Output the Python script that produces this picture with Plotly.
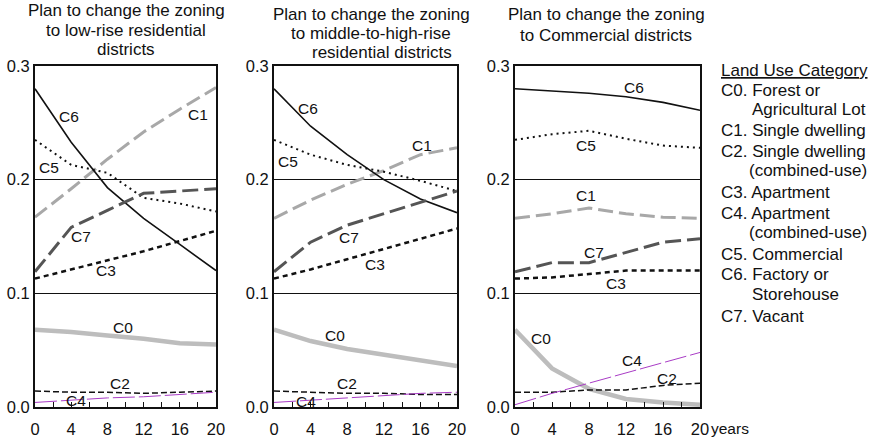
import plotly.graph_objects as go

# ---------------- data ----------------
years = [0, 4, 8, 12, 16, 20]
categories = ["C0", "C1", "C2", "C3", "C4", "C5", "C6", "C7"]

panel_titles = [
    ["Plan to change the zoning", "to low-rise residential", "districts"],
    ["Plan to change the zoning", "to middle-to-high-rise", "residential districts"],
    ["Plan to change the zoning", "to Commercial districts"],
]

y_ticks = [0.0, 0.1, 0.2, 0.3]
y_ticklabels = ["0.0", "0.1", "0.2", "0.3"]
x_ticks = [0, 4, 8, 12, 16, 20]
x_unit = "years"

# Panel 1: low-rise residential
low_c0 = [0.068, 0.066, 0.063, 0.060, 0.056, 0.055]
low_c1 = [0.167, 0.192, 0.218, 0.242, 0.262, 0.281]
low_c2 = [0.014, 0.013, 0.013, 0.012, 0.013, 0.014]
low_c3 = [0.113, 0.121, 0.129, 0.137, 0.146, 0.155]
low_c4 = [0.004, 0.006, 0.008, 0.009, 0.011, 0.013]
low_c5 = [0.235, 0.213, 0.206, 0.184, 0.179, 0.172]
low_c6 = [0.280, 0.233, 0.193, 0.166, 0.143, 0.120]
low_c7 = [0.119, 0.158, 0.173, 0.188, 0.190, 0.192]

# Panel 2: middle-to-high-rise residential
mid_c0 = [0.068, 0.058, 0.051, 0.046, 0.041, 0.036]
mid_c1 = [0.166, 0.182, 0.196, 0.208, 0.222, 0.228]
mid_c2 = [0.014, 0.013, 0.012, 0.012, 0.011, 0.011]
mid_c3 = [0.113, 0.121, 0.130, 0.139, 0.148, 0.157]
mid_c4 = [0.004, 0.006, 0.008, 0.010, 0.012, 0.013]
mid_c5 = [0.235, 0.222, 0.213, 0.207, 0.199, 0.190]
mid_c6 = [0.280, 0.247, 0.222, 0.200, 0.183, 0.171]
mid_c7 = [0.119, 0.145, 0.160, 0.170, 0.180, 0.190]

# Panel 3: commercial
com_c0 = [0.068, 0.034, 0.016, 0.007, 0.004, 0.002]
com_c1 = [0.166, 0.170, 0.175, 0.170, 0.167, 0.166]
com_c2 = [0.013, 0.013, 0.015, 0.015, 0.019, 0.021]
com_c3 = [0.113, 0.114, 0.117, 0.120, 0.120, 0.120]
com_c4 = [0.002, 0.012, 0.021, 0.030, 0.039, 0.048]
com_c5 = [0.235, 0.240, 0.243, 0.236, 0.230, 0.228]
com_c6 = [0.280, 0.278, 0.276, 0.273, 0.268, 0.261]
com_c7 = [0.119, 0.127, 0.127, 0.136, 0.145, 0.148]

legend_title = "Land Use Category"
legend_lines = [
    ["C0. Forest or", "Agricultural Lot"],
    ["C1. Single dwelling"],
    ["C2. Single dwelling", "(combined-use)"],
    ["C3. Apartment"],
    ["C4. Apartment", "(combined-use)"],
    ["C5. Commercial"],
    ["C6. Factory or", "Storehouse"],
    ["C7. Vacant"],
]

panels = [
    dict(zip(categories, [low_c0, low_c1, low_c2, low_c3, low_c4, low_c5, low_c6, low_c7])),
    dict(zip(categories, [mid_c0, mid_c1, mid_c2, mid_c3, mid_c4, mid_c5, mid_c6, mid_c7])),
    dict(zip(categories, [com_c0, com_c1, com_c2, com_c3, com_c4, com_c5, com_c6, com_c7])),
]

# ---------------- styles / layout ----------------
W, H = 880, 441
FONT = "Liberation Sans, Arial, Helvetica, sans-serif"
INK = "#111111"

line_styles = {
    "C0": dict(color="#bdbdbd", width=4.5, dash="solid"),
    "C1": dict(color="#a8a8a8", width=3, dash="15px,6px"),
    "C2": dict(color=INK, width=1.5, dash="6px,3px"),
    "C3": dict(color=INK, width=2.5, dash="5px,4px"),
    "C4": dict(color="#a93cc6", width=1, dash="22px,4px"),
    "C5": dict(color=INK, width=2, dash="2px,4px"),
    "C6": dict(color=INK, width=1.6, dash="solid"),
    "C7": dict(color="#555555", width=3, dash="16px,6px"),
}

# panel pixel boxes (left, right) and common (top, bottom)
panel_px = [(35, 216), (274, 457), (515, 700)]
top_px, bot_px = 66, 407

# label positions (data coords) for each panel
label_pos = [
    {"C6": (3.8, 0.256), "C1": (18.0, 0.257), "C5": (1.6, 0.211), "C7": (5.1, 0.150),
     "C3": (7.85, 0.120), "C0": (9.7, 0.070), "C2": (9.4, 0.021), "C4": (4.5, 0.006)},
    {"C6": (3.7, 0.263), "C1": (16.2, 0.230), "C5": (1.5, 0.216), "C7": (8.2, 0.149),
     "C3": (11.0, 0.125), "C0": (6.7, 0.0625), "C2": (8.0, 0.021), "C4": (3.5, 0.0045)},
    {"C6": (12.9, 0.281), "C5": (7.7, 0.230), "C1": (7.7, 0.186), "C7": (8.5, 0.136),
     "C3": (10.9, 0.109), "C0": (2.8, 0.0605), "C4": (12.6, 0.041), "C2": (16.4, 0.025)},
]

TITLE_SIZE = 17
title_pos = [
    [(126, 11), (126, 30.5), (126, 50)],
    [(371, 14), (371, 33.5), (382, 53)],
    [(606, 14.5), (606, 35.5)],
]

LEG_SIZE = 17
legend_x, legend_indent = 719, 750
legend_title_y = 70
legend_ys = [[90, 109.5], [130], [151, 170.5], [192], [213, 232.5], [254], [274.5, 294], [316]]

TICK_SIZE = 16.5
LABEL_SIZE = 15.5


def px(x):
    return x / W


def py(y):
    return 1 - y / H


fig = go.Figure()
annotations = []
for i, data in enumerate(panels):
    sfx = "" if i == 0 else str(i + 1)
    for cat in categories:
        fig.add_trace(go.Scatter(
            x=years, y=data[cat], mode="lines", line=line_styles[cat],
            xaxis="x" + sfx, yaxis="y" + sfx, showlegend=False, cliponaxis=False,
            hoverinfo="skip"))
        lx, ly = label_pos[i][cat]
        annotations.append(dict(x=lx, y=ly, xref="x" + sfx, yref="y" + sfx, text=cat,
                                showarrow=False, font=dict(size=LABEL_SIZE, color=INK, family=FONT),
                                xanchor="center", yanchor="middle"))
    l, r = panel_px[i]
    xa = dict(domain=[px(l), px(r)], range=[0, 20], anchor="y" + sfx,
              tickmode="array", tickvals=x_ticks, ticktext=[str(v) for v in x_ticks],
              ticks="inside", ticklen=5, tickwidth=1.3, tickcolor=INK,
              minor=dict(tickmode="linear", tick0=0, dtick=2, ticks="inside", ticklen=5,
                         tickwidth=1.3, tickcolor=INK),
              ticklabelstandoff=6,
              showline=True, linecolor=INK, linewidth=2, mirror=True,
              showgrid=False, zeroline=False, automargin=False,
              tickfont=dict(size=TICK_SIZE, color=INK, family=FONT))
    ya = dict(domain=[py(bot_px), py(top_px)], range=[0, 0.3], anchor="x" + sfx,
              tickmode="array", tickvals=y_ticks, ticktext=y_ticklabels, ticks="",
              showline=True, linecolor=INK, linewidth=2, mirror=True,
              showgrid=True, gridcolor=INK, gridwidth=0.9, zeroline=False,
              automargin=False, tickfont=dict(size=TICK_SIZE, color=INK, family=FONT))
    fig.layout["xaxis" + sfx] = xa
    fig.layout["yaxis" + sfx] = ya
    for txt, (cx, cy) in zip(panel_titles[i], title_pos[i]):
        annotations.append(dict(x=px(cx), y=py(cy), xref="paper", yref="paper", text=txt,
                                showarrow=False, xanchor="center", yanchor="middle",
                                font=dict(size=TITLE_SIZE, color=INK, family=FONT)))

# x unit label
annotations.append(dict(x=px(709), y=py(428), xref="paper", yref="paper", text=x_unit,
                        showarrow=False, xanchor="left", yanchor="middle",
                        font=dict(size=15.5, color=INK, family=FONT)))

# legend text block
annotations.append(dict(x=px(legend_x), y=py(legend_title_y), xref="paper", yref="paper",
                        text=legend_title, showarrow=False, xanchor="left", yanchor="middle",
                        font=dict(size=LEG_SIZE, color=INK, family=FONT, lineposition="under")))
for lines, ys in zip(legend_lines, legend_ys):
    for j, (txt, yy) in enumerate(zip(lines, ys)):
        xx = legend_x if j == 0 else legend_indent - (3 if txt.startswith("(") else 0)
        annotations.append(dict(x=px(xx), y=py(yy), xref="paper", yref="paper", text=txt,
                                showarrow=False, xanchor="left", yanchor="middle",
                                font=dict(size=LEG_SIZE, color=INK, family=FONT)))

fig.update_layout(
    width=W, height=H, margin=dict(l=0, r=0, t=0, b=0),
    paper_bgcolor="white", plot_bgcolor="white",
    annotations=annotations, showlegend=False,
    font=dict(family=FONT, color=INK),
)

fig.write_html("out.html")
